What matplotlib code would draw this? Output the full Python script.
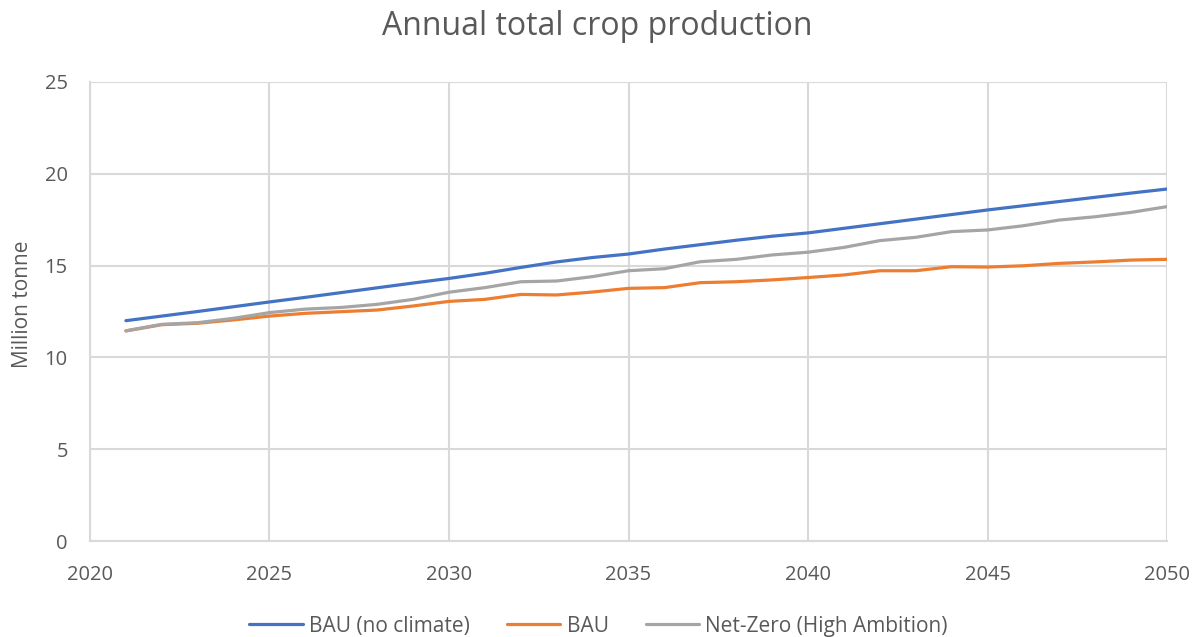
import numpy as np
import matplotlib
matplotlib.use('Agg')
import matplotlib.pyplot as plt

# yearly production, million tonne
years = list(range(2021, 2051))
bau_no_climate = [12.00, 12.25, 12.50, 12.76, 13.02, 13.27, 13.53, 13.79, 14.05, 14.30,
                  14.58, 14.90, 15.20, 15.44, 15.63, 15.90, 16.14, 16.38, 16.60, 16.78,
                  17.03, 17.28, 17.53, 17.78, 18.03, 18.26, 18.49, 18.72, 18.95, 19.17]
bau = [11.44, 11.78, 11.86, 12.04, 12.25, 12.40, 12.49, 12.58, 12.80, 13.05,
       13.16, 13.43, 13.40, 13.56, 13.76, 13.80, 14.07, 14.12, 14.22, 14.35,
       14.49, 14.72, 14.72, 14.94, 14.92, 14.99, 15.12, 15.20, 15.30, 15.34]
net_zero = [11.45, 11.80, 11.89, 12.13, 12.44, 12.63, 12.72, 12.89, 13.16, 13.55,
            13.80, 14.12, 14.16, 14.40, 14.72, 14.83, 15.21, 15.34, 15.58, 15.73,
            15.99, 16.36, 16.54, 16.85, 16.94, 17.17, 17.48, 17.66, 17.90, 18.21]

series_names = ['BAU (no climate)', 'BAU', 'Net-Zero (High Ambition)']
series_colors = ['#4472C4', '#ED7D31', '#A5A5A5']

plt.rcParams['font.family'] = ['Open Sans', 'DejaVu Sans']
text_color = '#595959'
grid_color = '#D9D9D9'

fig = plt.figure(figsize=(11.95, 6.37), dpi=100)
ax = fig.add_axes([0.0753, 0.1507, 0.9013, 0.7206])

for values, name, color in zip([bau_no_climate, bau, net_zero], series_names, series_colors):
    ax.plot(years, values, color=color, linewidth=2.3, label=name,
            solid_capstyle='round', solid_joinstyle='round')

ax.set_xlim(2020, 2050)
ax.set_ylim(0, 25)
ax.set_xticks(range(2020, 2051, 5))
ax.set_yticks(range(0, 26, 5))

ax.grid(True, color=grid_color, linewidth=1.5)
ax.set_axisbelow(True)
for side in ['top', 'right']:
    ax.spines[side].set_visible(False)
for side in ['left', 'bottom']:
    ax.spines[side].set_color(grid_color)
    ax.spines[side].set_linewidth(1.5)
ax.tick_params(length=0, colors=text_color, labelsize=14.5)
ax.tick_params(axis='x', pad=17)
ax.tick_params(axis='y', pad=16)

# axis title and chart title
fig.text(23 / 1195, 0.523, 'Million tonne', rotation=90, ha='center', va='center',
         color=text_color, fontsize=15)
fig.text(0.5, 0.958, 'Annual total crop production', ha='center', va='center',
         color=text_color, fontsize=23)

fig.legend(loc='center', bbox_to_anchor=(0.501, 0.017), ncol=3, frameon=False,
           fontsize=15, labelcolor=text_color, handlelength=2.55, columnspacing=1.8,
           handletextpad=0.3, borderpad=0, borderaxespad=0)

fig.savefig('out.png', dpi=100)
